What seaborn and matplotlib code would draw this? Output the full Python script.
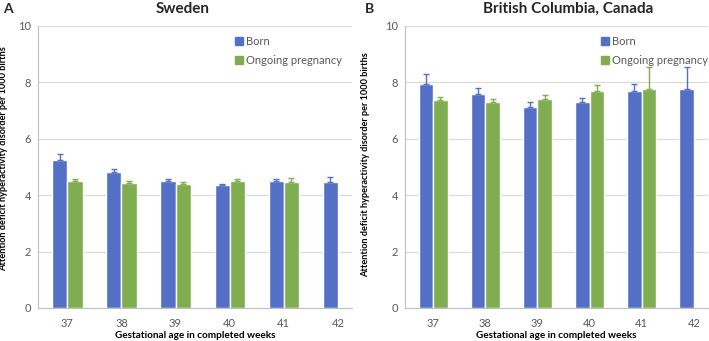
import numpy as np
import pandas as pd
import matplotlib
matplotlib.use("Agg")
import matplotlib.pyplot as plt
from matplotlib.patches import Patch
import seaborn as sns

weeks = ["37", "38", "39", "40", "41", "42"]
groups = ["Born", "Ongoing pregnancy"]

sweden_born = [5.26, 4.82, 4.49, 4.35, 4.51, 4.48]
sweden_born_upper = [5.47, 4.94, 4.59, 4.41, 4.59, 4.63]
sweden_ongoing = [4.49, 4.44, 4.41, 4.49, 4.47, np.nan]
sweden_ongoing_upper = [4.56, 4.49, 4.47, 4.57, 4.62, np.nan]

bc_born = [7.95, 7.60, 7.13, 7.31, 7.68, 7.76]
bc_born_upper = [8.31, 7.81, 7.30, 7.46, 7.94, 8.56]
bc_ongoing = [7.37, 7.30, 7.42, 7.68, 7.75, np.nan]
bc_ongoing_upper = [7.48, 7.42, 7.57, 7.92, 8.54, np.nan]

colors = {"Born": "#5470c6", "Ongoing pregnancy": "#7fad4f"}
grey = "#595959"

sns.set_theme(style="white")
plt.rcParams["font.family"] = ["Lato", "DejaVu Sans"]


def make_frame(born, born_up, ongoing, ongoing_up):
    return pd.DataFrame({
        "week": weeks * 2,
        "group": [groups[0]] * 6 + [groups[1]] * 6,
        "rate": born + ongoing,
        "upper": born_up + ongoing_up,
    })


def draw_panel(ax, df):
    df = df.dropna()
    sns.barplot(data=df, x="week", y="rate", hue="group", order=weeks,
                hue_order=groups, palette=colors, errorbar=None,
                width=0.56, saturation=1, ax=ax, legend=False)
    # upper-only error bars, same colour as the bars
    for container, g in zip(ax.containers, groups):
        sub = df[df["group"] == g]
        sub = sub.set_index("week").reindex([w for w in weeks if w in set(sub["week"])])
        xs = np.array([p.get_x() + p.get_width() / 2 for p in container.patches])
        vals = sub["rate"].to_numpy()
        ups = sub["upper"].to_numpy()
        yerr = [np.zeros(len(vals)), ups - vals]
        ax.errorbar(xs, vals, yerr=yerr, fmt="none", ecolor=colors[g],
                    elinewidth=1, capsize=2.5, capthick=1)
    ax.set_ylim(0, 10)
    ax.set_yticks([0, 2, 4, 6, 8, 10])
    ax.yaxis.grid(True, color="#d9d9d9", linewidth=0.8)
    ax.set_axisbelow(True)
    for side in ["top", "right"]:
        ax.spines[side].set_visible(False)
    for side in ["left", "bottom"]:
        ax.spines[side].set_color("#bfbfbf")
        ax.spines[side].set_linewidth(0.8)
    ax.tick_params(axis="both", colors=grey, labelsize=8, length=0)
    ax.tick_params(axis="x", pad=7)
    ax.tick_params(axis="y", pad=5)
    ax.set_xlabel("Gestational age in completed weeks", fontsize=7.2,
                  fontweight="bold", color="black", labelpad=2)
    ax.set_ylabel("Attention deficit hyperactivity disorder per 1000 births",
                  fontsize=6.6, fontweight="bold", color="black")
    handles = [Patch(color=colors[g], label=g) for g in groups]
    ax.legend(handles=handles, loc="upper left", frameon=False,
              fontsize=8, labelcolor=grey, handlelength=0.7, handleheight=0.7,
              handletextpad=0.3, labelspacing=0.75, borderpad=0,
              bbox_to_anchor=(0.61, 0.985))


fig = plt.figure(figsize=(7.09, 3.41), dpi=100)
ax_a = fig.add_axes([0.0536, 0.0968, 0.443, 0.827])
ax_b = fig.add_axes([0.571, 0.0968, 0.427, 0.827])

draw_panel(ax_a, make_frame(sweden_born, sweden_born_upper,
                            sweden_ongoing, sweden_ongoing_upper))
draw_panel(ax_b, make_frame(bc_born, bc_born_upper,
                            bc_ongoing, bc_ongoing_upper))
ax_a.yaxis.set_label_coords(-0.094, 0.53)
ax_b.yaxis.set_label_coords(-0.115, 0.51)
ax_b.get_legend().set_bbox_to_anchor((0.63, 0.985))

fig.text(183 / 709, 1 - 9 / 341, "Sweden", ha="center", va="center",
         fontsize=11, fontweight="bold")
fig.text(568 / 709, 1 - 9 / 341, "British Columbia, Canada", ha="center",
         va="center", fontsize=11, fontweight="bold")
fig.text(8 / 709, 1 - 9 / 341, "A", ha="center", va="center",
         fontsize=10, fontweight="bold")
fig.text(369 / 709, 1 - 9 / 341, "B", ha="center", va="center",
         fontsize=10, fontweight="bold")

fig.savefig("out.png", dpi=100)
